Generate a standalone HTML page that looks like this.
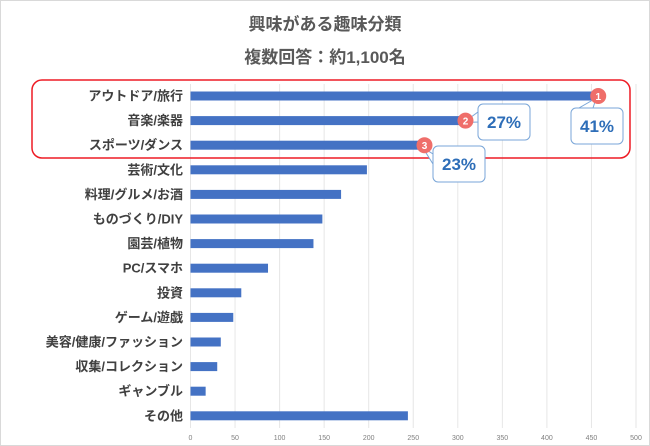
<!DOCTYPE html>
<html><head><meta charset="utf-8"><style>
body{margin:0;background:#fff;}
svg{display:block;font-family:"Liberation Sans","Noto Sans CJK JP",sans-serif;}
</style></head><body>
<svg id="c" width="650" height="446">
<rect x="0.5" y="0.5" width="649" height="445" fill="#fff" stroke="#d9d9d9"/>
<text x="325" y="30" text-anchor="middle" font-size="17" font-weight="bold" fill="#595959">興味がある趣味分類</text>
<text x="325" y="63" text-anchor="middle" font-size="17" font-weight="bold" fill="#595959">複数回答：約1,100名</text>
<g id="grid"></g><g id="bars"></g><g id="labels"></g><g id="ticks"></g>
<rect x="32" y="80" width="598" height="78" rx="10" fill="none" stroke="#ee1c25" stroke-width="1.5"/>
<g id="callouts"></g>
</svg>
<script>
const categories=["アウトドア/旅行","音楽/楽器","スポーツ/ダンス","芸術/文化","料理/グルメ/お酒","ものづくり/DIY","園芸/植物","PC/スマホ","投資","ゲーム/遊戯","美容/健康/ファッション","収集/コレクション","ギャンブル","その他"];
const values=[452,303,257,198,169,148,138,87,57,48,34,30,17,244];
const tickValues=[0,50,100,150,200,250,300,350,400,450,500];
const rankLabels=["41%","27%","23%"];
const NS="http://www.w3.org/2000/svg";
const x0=190.5,x1=636,y0=96,step=24.6;
const xs=v=>x0+(x1-x0)*v/500;
const ys=i=>y0+i*step;
function mk(t,a,p){const e=document.createElementNS(NS,t);for(const k in a)e.setAttribute(k,a[k]);document.getElementById(p).appendChild(e);return e;}
tickValues.forEach(t=>{
 const l=mk('line',{x1:xs(t),x2:xs(t),y1:84,y2:428,stroke:'#e6e6e6'},'grid');
 
 
 const tx=mk('text',{x:xs(t),y:440,'text-anchor':'middle','font-size':7,fill:'#7f7f7f'},'ticks');
 tx.textContent=t;
 
 
});
categories.forEach((c,i)=>{
 const b=mk('rect',{x:x0,y:ys(i)-4.5,width:xs(values[i])-x0,height:9,fill:'#4472c4'},'bars');
 
 
 const t=mk('text',{x:183,y:ys(i)+4.5,'text-anchor':'end','font-size':13,'font-weight':'bold',fill:'#404040'},'labels');
 t.textContent=c;
 
 
});
const boxes=[[571,108],[478,104],[433,146]];
rankLabels.forEach((r,i)=>{
 const cx=xs(values[i]),cy=ys(i);
 const [bx,by]=boxes[i];
 const g=mk('g',{},'callouts');
 
 
 const tip=mk('path',{d:`M${cx+3} ${cy+2} L${bx+(i==0?8:0)} ${by+(i==0?0:8)} L${bx+(i==0?22:0)} ${by+(i==0?0:18)}Z`,fill:'#fff',stroke:'#7aa6d8'},'callouts');
 const rc=mk('rect',{x:bx,y:by,width:52,height:36,rx:5,fill:'#fff',stroke:'#7aa6d8'},'callouts');
 const tx=mk('text',{x:bx+26,y:by+24,'text-anchor':'middle','font-size':17,'font-weight':'bold',fill:'#2e6eb8'},'callouts');
 tx.textContent=r;
 
 
 const ci=mk('circle',{cx:cx+5,cy:cy,r:8,fill:'#ef6e6a'},'callouts');
 const n=mk('text',{x:cx+5,y:cy+4,'text-anchor':'middle','font-size':10,fill:'#fff','font-weight':'bold'},'callouts');
 n.textContent=i+1;
 
 
});
</script>
</body></html>
